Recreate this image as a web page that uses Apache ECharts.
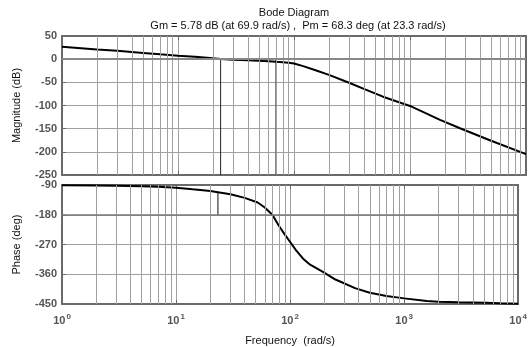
<!DOCTYPE html>
<html>
<head>
<meta charset="utf-8">
<script src="https://cdn.jsdelivr.net/npm/echarts@6/dist/echarts.min.js"></script>
<style>
html,body{margin:0;padding:0;background:#fff}
#chart{width:530px;height:347px}
</style>
</head>
<body>
<div id="chart"></div>
<script>
// magnitude (dB) vs frequency (rad/s)
var magFreq = [1, 2, 3, 5, 7, 10, 14, 20, 23.3, 30, 40, 50, 60, 69.9, 80, 90, 100, 120, 158, 200, 306, 400, 585, 1000, 1815, 2697, 5000, 10000];
var magDb   = [27, 21, 18, 13.5, 10.5, 7.5, 5, 2, 0.5, -1, -2.5, -3.5, -4.5, -5.78, -6.5, -7.5, -9.5, -15, -25, -34, -52, -64, -81, -101, -131, -149, -176, -205];
// phase (deg) vs frequency
var phFreq = [1, 2, 3, 5, 7, 10, 14, 20, 23.3, 30, 40, 52, 60, 69.9, 80, 90, 98, 113, 130, 150, 194, 250, 371, 500, 700, 1000, 1580, 2000, 3000, 5190, 7000, 10000];
var phDeg  = [-90.5, -91.5, -92.5, -94, -95.5, -98, -103, -108, -111.7, -118, -129, -143, -158, -180, -214, -240, -258, -288, -313, -331, -353, -376, -402, -416, -426, -433, -441, -443, -445, -446, -448, -449];
// margins
var gmDb = 5.78, gmFreq = 69.9;
var pmDeg = 68.3, pmFreq = 23.3;
// axis ticks
var magTicks = [-250, 50, 50];     // min, max, step
var phTicks = [-450, -90, 90];
var minorFreq = [];
[1, 10, 100, 1000].forEach(function (d) {
    for (var k = 2; k <= 9; k++) minorFreq.push(d * k);
});

var gridColor = '#a0a0a0';
var boxColor = '#6a6a6a';
var labelStyle = {color: '#555', fontWeight: 'bold', fontSize: 11, fontFamily: 'Liberation Sans'};

function pair(xs, ys) {
    return xs.map(function (x, i) { return [x, ys[i]]; });
}

function xAx(grid, pos, showLabel) {
    return {
        type: 'log', logBase: 10, min: 1, max: 10000, gridIndex: grid, position: pos,
        axisLine: {show: true, onZero: false, lineStyle: {color: boxColor, width: 2}},
        axisTick: {show: true, inside: true, length: 4, lineStyle: {color: boxColor}},
        splitLine: {show: pos === 'bottom', lineStyle: {color: gridColor, width: 1}},
        axisLabel: showLabel ? {
            show: true, margin: 9,
            formatter: function (v) { return '{b|10}{s|' + Math.round(Math.log10(v)) + '}'; },
            rich: {
                b: {color: '#555', fontWeight: 'bold', fontSize: 11, fontFamily: 'Liberation Sans'},
                s: {color: '#555', fontWeight: 'bold', fontSize: 8, fontFamily: 'Liberation Sans', verticalAlign: 'top', padding: [0, 0, 7, 1]}
            }
        } : {show: false},
        name: showLabel ? 'Frequency  (rad/s)' : '',
        nameLocation: 'middle', nameGap: 31,
        nameTextStyle: {color: '#111', fontSize: 11, fontFamily: 'Liberation Sans'}
    };
}

function yAx(grid, pos, ticks, name) {
    var left = pos === 'left';
    return {
        type: 'value', gridIndex: grid, position: pos,
        min: ticks[0], max: ticks[1], interval: ticks[2],
        axisLine: {show: true, lineStyle: {color: boxColor, width: 2}},
        axisTick: {show: true, inside: true, length: 4, lineStyle: {color: boxColor}},
        splitLine: {show: left, lineStyle: {color: gridColor, width: 1}},
        axisLabel: left ? Object.assign({margin: 5}, labelStyle) : {show: false},
        name: left ? name : '',
        nameLocation: 'middle', nameGap: 40, nameRotate: 90,
        nameTextStyle: {color: '#111', fontSize: 11, fontFamily: 'Liberation Sans'}
    };
}

function minorLines() {
    return {
        silent: true, symbol: 'none', label: {show: false},
        lineStyle: {color: gridColor, width: 1, type: 'solid'},
        data: minorFreq.map(function (f) { return {xAxis: f}; })
    };
}

var chart = echarts.init(document.getElementById('chart'));
var option = {
    animation: false,
    backgroundColor: '#fff',
    graphic: [
        {type: 'text', x: 294, y: 7, style: {text: 'Bode Diagram', fill: '#111', font: '11px "Liberation Sans"', textAlign: 'center'}},
        {type: 'text', x: 298, y: 20, style: {text: 'Gm = ' + gmDb + ' dB (at ' + gmFreq + ' rad/s) ,  Pm = ' + pmDeg + ' deg (at ' + pmFreq + ' rad/s)', fill: '#111', font: '11px "Liberation Sans"', textAlign: 'center'}}
    ],
    grid: [
        {left: 62, top: 36, width: 464, height: 139},
        {left: 62, top: 185, width: 464, height: 119}
    ],
    xAxis: [xAx(0, 'bottom', false), xAx(0, 'top', false), xAx(1, 'bottom', true), xAx(1, 'top', false)],
    yAxis: [yAx(0, 'left', magTicks, 'Magnitude (dB)'), yAx(0, 'right', magTicks, ''),
            yAx(1, 'left', phTicks, 'Phase (deg)'), yAx(1, 'right', phTicks, '')],
    series: [
        {
            type: 'line', xAxisIndex: 0, yAxisIndex: 0, data: [], markLine: minorLines()
        },
        {
            type: 'line', xAxisIndex: 2, yAxisIndex: 2, data: [], markLine: minorLines()
        },
        {
            name: 'ref0', type: 'line', xAxisIndex: 0, yAxisIndex: 0, data: [],
            markLine: {silent: true, symbol: 'none', label: {show: false}, lineStyle: {color: '#888', width: 2, type: 'solid'}, data: [{yAxis: 0}]}
        },
        {
            name: 'ref180', type: 'line', xAxisIndex: 2, yAxisIndex: 2, data: [],
            markLine: {silent: true, symbol: 'none', label: {show: false}, lineStyle: {color: '#777', width: 1.5, type: 'solid'}, data: [{yAxis: -180}]}
        },
        {
            type: 'line', xAxisIndex: 0, yAxisIndex: 0, symbol: 'none',
            lineStyle: {color: '#222', width: 1},
            data: [[pmFreq, 0], [pmFreq, magTicks[0]]]
        },
        {
            type: 'line', xAxisIndex: 0, yAxisIndex: 0, symbol: 'none',
            lineStyle: {color: '#222', width: 1},
            data: [[gmFreq, 0], [gmFreq, magTicks[0]]]
        },
        {
            type: 'line', xAxisIndex: 2, yAxisIndex: 2, symbol: 'none',
            lineStyle: {color: '#111', width: 1},
            data: [[pmFreq, -180], [pmFreq, -180 + pmDeg]]
        },
        {
            name: 'mag', type: 'line', xAxisIndex: 0, yAxisIndex: 0, symbol: 'none',
            lineStyle: {color: '#000', width: 2},
            data: pair(magFreq, magDb)
        },
        {
            name: 'phase', type: 'line', xAxisIndex: 2, yAxisIndex: 2, symbol: 'none',
            lineStyle: {color: '#000', width: 2},
            data: pair(phFreq, phDeg)
        }
    ]
};
chart.setOption(option);
</script>
</body>
</html>
